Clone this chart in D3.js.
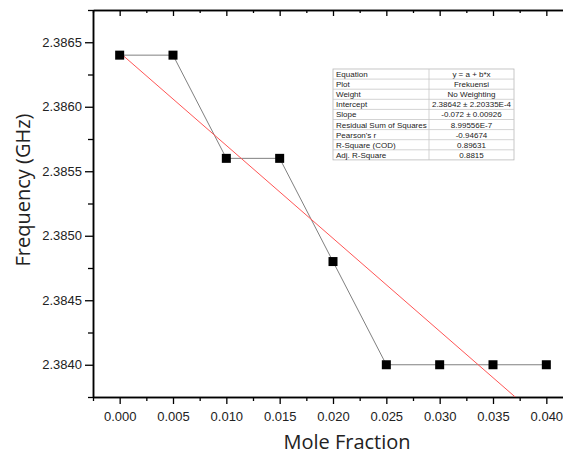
<!DOCTYPE html>
<html>
<head>
<meta charset="utf-8">
<script src="https://cdn.jsdelivr.net/npm/d3@7"></script>
<style>
html,body{margin:0;padding:0;background:#fff;}
svg{display:block;}
</style>
</head>
<body>
<svg id="chart" width="563" height="460"></svg>
<script>
// Data
const moleFraction = [0.000, 0.005, 0.010, 0.015, 0.020, 0.025, 0.030, 0.035, 0.040];
const frequency = [2.3864, 2.3864, 2.3856, 2.3856, 2.3848, 2.3840, 2.3840, 2.3840, 2.3840];
const xTicks = [0.000, 0.005, 0.010, 0.015, 0.020, 0.025, 0.030, 0.035, 0.040];
const yTicks = [2.3840, 2.3845, 2.3850, 2.3855, 2.3860, 2.3865];
const fitIntercept = 2.38642;
const fitSlope = -0.072;
const tableLabels = ["Equation", "Plot", "Weight", "Intercept", "Slope", "Residual Sum of Squares", "Pearson's r", "R-Square (COD)", "Adj. R-Square"];
const tableValues = ["y = a + b*x", "Frekuensi", "No Weighting", "2.38642 ± 2.20335E-4", "-0.072 ± 0.00926", "8.99556E-7", "-0.94674", "0.89631", "0.8815"];

const svg = d3.select("#chart");
const mLeft = 93, mRight = 573, mTop = 10, mBottom = 397;

const x = d3.scaleLinear().domain([-0.0025, 0.0425]).range([mLeft, mRight]);
const y = d3.scaleLinear().domain([2.38375, 2.38675]).range([mBottom, mTop]);

const xMinor = d3.range(-0.0025, 0.0426, 0.005);
const yMinor = d3.range(2.38375, 2.38676, 0.0005);

svg.append("defs").append("clipPath").attr("id", "clip")
  .append("rect").attr("x", mLeft).attr("y", mTop).attr("width", mRight - mLeft).attr("height", mBottom - mTop);

const tickFont = "Arial, 'Liberation Sans', sans-serif";

function styleAxis(g) {
  g.selectAll(".domain").attr("stroke", "#000").attr("stroke-width", 1.5);
  g.selectAll(".tick line").attr("stroke", "#000").attr("stroke-width", 1.3);
  g.selectAll(".tick text").attr("font-family", tickFont).attr("font-size", 13).attr("fill", "#222");
}

// Bottom axis
const gB = svg.append("g").attr("transform", `translate(0,${mBottom})`)
  .call(d3.axisBottom(x).tickValues(xTicks).tickFormat(d3.format(".3f")).tickSize(7).tickPadding(8).tickSizeOuter(0));
styleAxis(gB);
const gBm = svg.append("g").attr("transform", `translate(0,${mBottom})`)
  .call(d3.axisBottom(x).tickValues(xMinor).tickFormat("").tickSize(4).tickSizeOuter(0));
styleAxis(gBm);

// Top axis (ticks inward)
const gT = svg.append("g").attr("transform", `translate(0,${mTop})`)
  .call(d3.axisTop(x).tickValues(xTicks).tickFormat("").tickSize(-6).tickSizeOuter(0));
styleAxis(gT);
const gTm = svg.append("g").attr("transform", `translate(0,${mTop})`)
  .call(d3.axisTop(x).tickValues(xMinor).tickFormat("").tickSize(-3).tickSizeOuter(0));
styleAxis(gTm);

// Left axis
const gL = svg.append("g").attr("transform", `translate(${mLeft},0)`)
  .call(d3.axisLeft(y).tickValues(yTicks).tickFormat(d3.format(".4f")).tickSize(8).tickPadding(3).tickSizeOuter(0));
styleAxis(gL);
const gLm = svg.append("g").attr("transform", `translate(${mLeft},0)`)
  .call(d3.axisLeft(y).tickValues(yMinor).tickFormat("").tickSize(5).tickSizeOuter(0));
styleAxis(gLm);

// Connecting line
const plot = svg.append("g").attr("clip-path", "url(#clip)");
const pts = moleFraction.map((d, i) => [d, frequency[i]]);
plot.append("path")
  .attr("d", d3.line().x(d => x(d[0])).y(d => y(d[1]))(pts))
  .attr("fill", "none").attr("stroke", "#808080").attr("stroke-width", 1);

// Fit line
const fitX = [0, 0.0425];
plot.append("path")
  .attr("d", d3.line().x(d => x(d)).y(d => y(fitIntercept + fitSlope * d))(fitX))
  .attr("fill", "none").attr("stroke", "#ff5555").attr("stroke-width", 1);

// Markers
const ms = 9;
svg.append("g").selectAll("rect").data(pts).join("rect")
  .attr("x", d => x(d[0]) - ms / 2).attr("y", d => y(d[1]) - ms / 2)
  .attr("width", ms).attr("height", ms).attr("fill", "#000");

// Axis titles
const titleFont = "'Open Sans', 'Noto Sans', sans-serif";
svg.append("text").attr("x", 347).attr("y", 449).attr("text-anchor", "middle")
  .attr("font-family", titleFont).attr("font-size", 20).attr("fill", "#222").text("Mole Fraction");
svg.append("text").attr("transform", "translate(30,190) rotate(-90)").attr("text-anchor", "middle")
  .attr("font-family", titleFont).attr("font-size", 20).attr("fill", "#222").text("Frequency (GHz)");

// Stats table
const tX = 333, tY = 69, rowH = 10.1, c1 = 96, c2 = 85;
const tbl = svg.append("g");
tbl.append("rect").attr("x", tX).attr("y", tY).attr("width", c1 + c2).attr("height", rowH * tableLabels.length)
  .attr("fill", "#fff").attr("stroke", "#b8b8b8").attr("stroke-width", 0.8);
tableLabels.forEach((lab, i) => {
  const ry = tY + i * rowH;
  if (i > 0) tbl.append("line").attr("x1", tX).attr("x2", tX + c1 + c2).attr("y1", ry).attr("y2", ry)
    .attr("stroke", "#c8c8c8").attr("stroke-width", 0.8);
  tbl.append("text").attr("x", tX + 3).attr("y", ry + rowH / 2 + 3)
    .attr("font-family", tickFont).attr("font-size", 8).attr("fill", "#222").text(lab);
  tbl.append("text").attr("x", tX + c1 + c2 / 2).attr("y", ry + rowH / 2 + 3).attr("text-anchor", "middle")
    .attr("font-family", tickFont).attr("font-size", 8).attr("fill", "#222").text(tableValues[i]);
});
tbl.append("line").attr("x1", tX + c1).attr("x2", tX + c1).attr("y1", tY).attr("y2", tY + rowH * tableLabels.length)
  .attr("stroke", "#c8c8c8").attr("stroke-width", 0.8);
</script>
</body>
</html>
